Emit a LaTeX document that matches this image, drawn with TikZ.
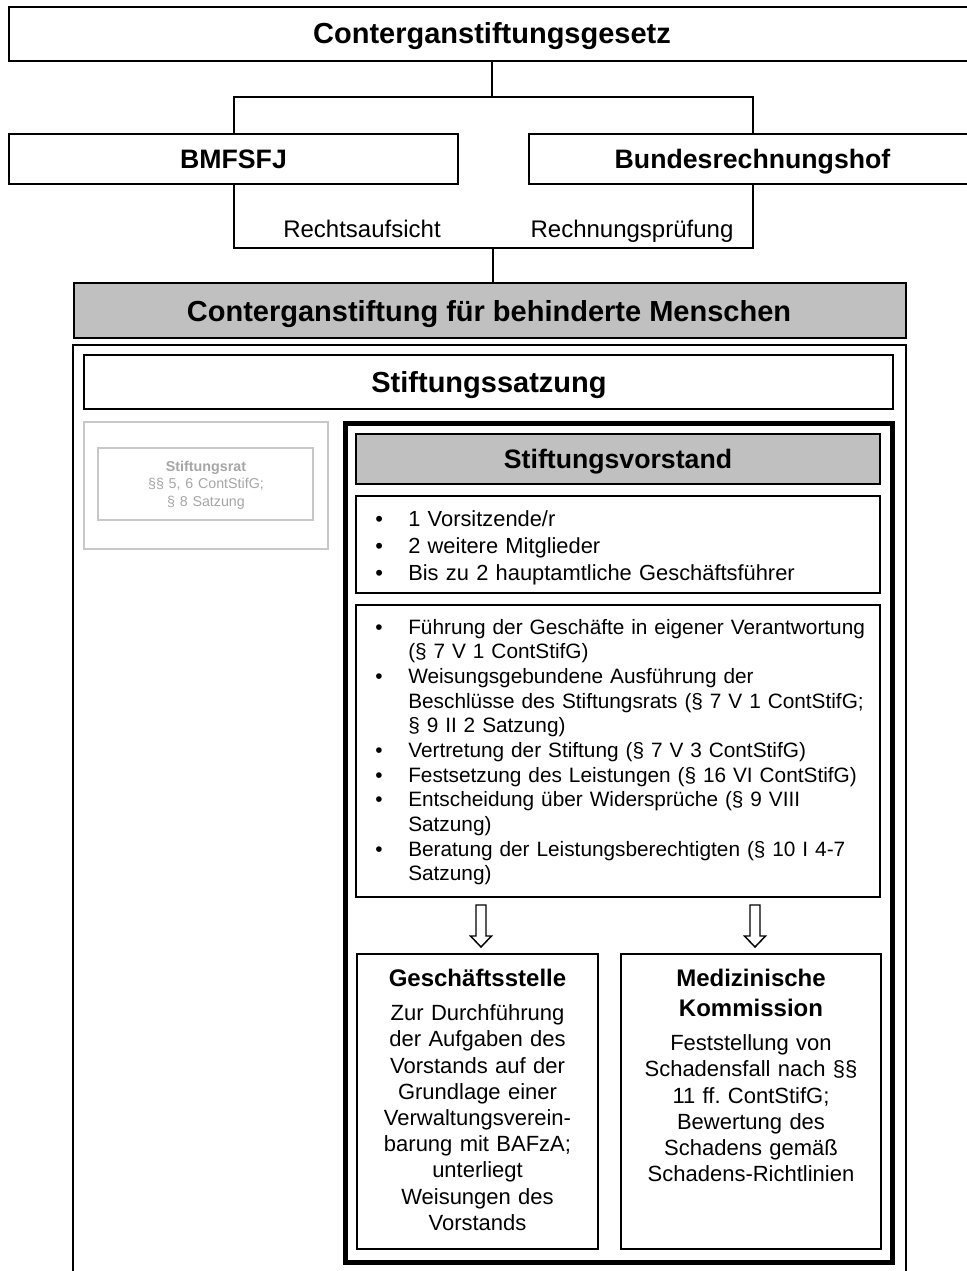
\documentclass[tikz,border=0pt]{standalone}
\usepackage{fontspec}
\setmainfont{Liberation Sans}
\frenchspacing
\usetikzlibrary{fit}
\definecolor{grayfill}{HTML}{C0C0C0}
\definecolor{ratline}{HTML}{C8C8C8}
\definecolor{rattext}{HTML}{A6A6A6}
\newcommand{\bfirst}[1]{\noindent\hangindent=24.75pt\hangafter=1\makebox[24.75pt][l]{•}#1}
\newcommand{\bitem}[1]{\par\bfirst{#1}}
\begin{document}
\begin{tikzpicture}[x=0.75pt,y=-0.75pt,
  box/.style={draw, line width=1.5pt, inner sep=0pt, rectangle},
  thickbox/.style={draw, line width=3.6pt, inner sep=0pt, rectangle},
  ratbox/.style={draw=ratline, line width=1.5pt, inner sep=0pt, rectangle},
  ttl/.style={font=\bfseries\fontsize{21.75}{26}\selectfont, inner sep=0pt, anchor=base},
  sub/.style={font=\bfseries\fontsize{20}{24}\selectfont, inner sep=0pt, anchor=base},
  hd/.style={font=\bfseries\fontsize{18}{21.75}\selectfont, inner sep=0pt, align=center, anchor=base},
  bd/.style={font=\fontsize{16.5}{19.65}\selectfont, inner sep=0pt, align=center, anchor=base},
  lbl/.style={font=\fontsize{18}{21}\selectfont, inner sep=0pt, anchor=base},
  tasktxt/.style={font=\fontsize{15.6}{18.5}\selectfont, inner sep=0pt, text width=372pt, anchor=base west},
  memtxt/.style={font=\fontsize{16.4}{20.25}\selectfont, inner sep=0pt, text width=372pt, anchor=base west},
  rattxt/.style={font=\fontsize{10.7}{13.1}\selectfont, text=rattext, align=center, inner sep=0pt, anchor=base, text width=150pt},
  conn/.style={line width=1.5pt},
  hollowarrow/.pic={\draw[line width=1.1pt, line join=miter] (-5,0) -- (5,0) -- (5,31) -- (10.5,31) -- (0,42) -- (-10.5,31) -- (-5,31) -- cycle;}
]
\useasboundingbox (0,0) rectangle (967,1271);
\clip (0,0) rectangle (967,1271);

% top level
\node[box, fit={(9,7) (975,61)}] (gesetz) {};
\node[ttl] (gesetzT) at (492,43) {Conterganstiftungsgesetz};
\node[box, fit={(9,134) (458,184)}] (bmfsfj) {};
\node[sub] (bmfsfjT) at (233.5,168) {BMFSFJ};
\node[box, fit={(529,134) (976,184)}] (brh) {};
\node[sub] (brhT) at (752.5,168) {Bundesrechnungshof};
\coordinate (j1) at (492,97);
\coordinate (j2) at (493,248);
\draw[conn] (gesetz.south) -- (j1);
\draw[conn] (bmfsfj.north) |- (j1) -| (brh.north);
\draw[conn] (bmfsfj.south) |- (j2) -| (brh.south);
\node[lbl] (ra) at (362,237) {Rechtsaufsicht};
\node[lbl] (rp) at (632,237) {Rechnungsprüfung};

\node[box, fill=grayfill, fit={(74,283) (906,338)}] (stiftung) {};
\node[ttl] (stiftungT) at (489,321) {Conterganstiftung für behinderte Menschen};
\draw[conn] (j2) -- (j2 |- stiftung.north);

% outer frame
\node[box, fit={(73,345) (906,1300)}] (outer) {};
\node[box, fit={(84,355) (893,409)}] (satzung) {};
\node[ttl] (satzungT) at (489,392.5) {Stiftungssatzung};

% Stiftungsrat (greyed)
\node[ratbox, fit={(84,422) (328,549)}] (ratouter) {};
\node[ratbox, fit={(98,448) (313,520)}] (rat) {};
\node[rattxt] (ratT) at (206,471.5) {\textbf{Stiftungsrat}\\§§ 5, 6 ContStifG;\\§ 8 Satzung};

% Stiftungsvorstand
\node[thickbox, fit={(345.5,423.5) (892.5,1262.5)}] (vorstand) {};
\node[box, fill=grayfill, fit={(356,434) (880,484)}] (vhead) {};
\node[sub] (vheadT) at (618,468) {Stiftungsvorstand};

\node[box, fit={(356,496) (880,593)}] (members) {};
\node[memtxt] (memtext) at (375,526) {%
\bfirst{1 Vorsitzende/r}%
\bitem{2 weitere Mitglieder}%
\bitem{Bis zu 2 hauptamtliche Geschäftsführer}\par};

\node[box, fit={(356,605) (880,897)}] (tasks) {};
\node[tasktxt] (tasktext) at (375,634) {%
\bfirst{Führung der Geschäfte in eigener Verantwortung\newline (§ 7 V 1 ContStifG)}%
\bitem{Weisungsgebundene Ausführung der\newline Beschlüsse des Stiftungsrats (§ 7 V 1 ContStifG;\newline § 9 II 2 Satzung)}%
\bitem{Vertretung der Stiftung (§ 7 V 3 ContStifG)}%
\bitem{Festsetzung des Leistungen (§ 16 VI ContStifG)}%
\bitem{Entscheidung über Widersprüche (§ 9 VIII\newline Satzung)}%
\bitem{Beratung der Leistungsberechtigten (§ 10 I 4-7\newline Satzung)}\par};

% arrows
\pic at (481,905) {hollowarrow};
\pic at (755,905) {hollowarrow};

% lower boxes
\node[box, fit={(357,954) (598,1249)}] (gs) {};
\node[hd, text width=172pt] (gsT) at (477.5,986) {Geschäftsstelle};
\node[bd, text width=175pt] (gsB) at (477.5,1020.7) {Zur Durchführung\\der Aufgaben des\\Vorstands auf der\\Grundlage einer\\Verwaltungsverein-\\barung mit BAFzA;\\unterliegt\\Weisungen des\\Vorstands};

\node[box, fit={(621,954) (881,1249)}] (mk) {};
\node[hd, text width=185pt] (mkT) at (751,986) {Medizinische\\[1.2pt]Kommission};
\node[bd, text width=188pt] (mkB) at (751,1050.7) {Feststellung von\\Schadensfall nach §§\\11 ff. ContStifG;\\Bewertung des\\Schadens gemäß\\Schadens-Richtlinien};
\end{tikzpicture}
\end{document}
